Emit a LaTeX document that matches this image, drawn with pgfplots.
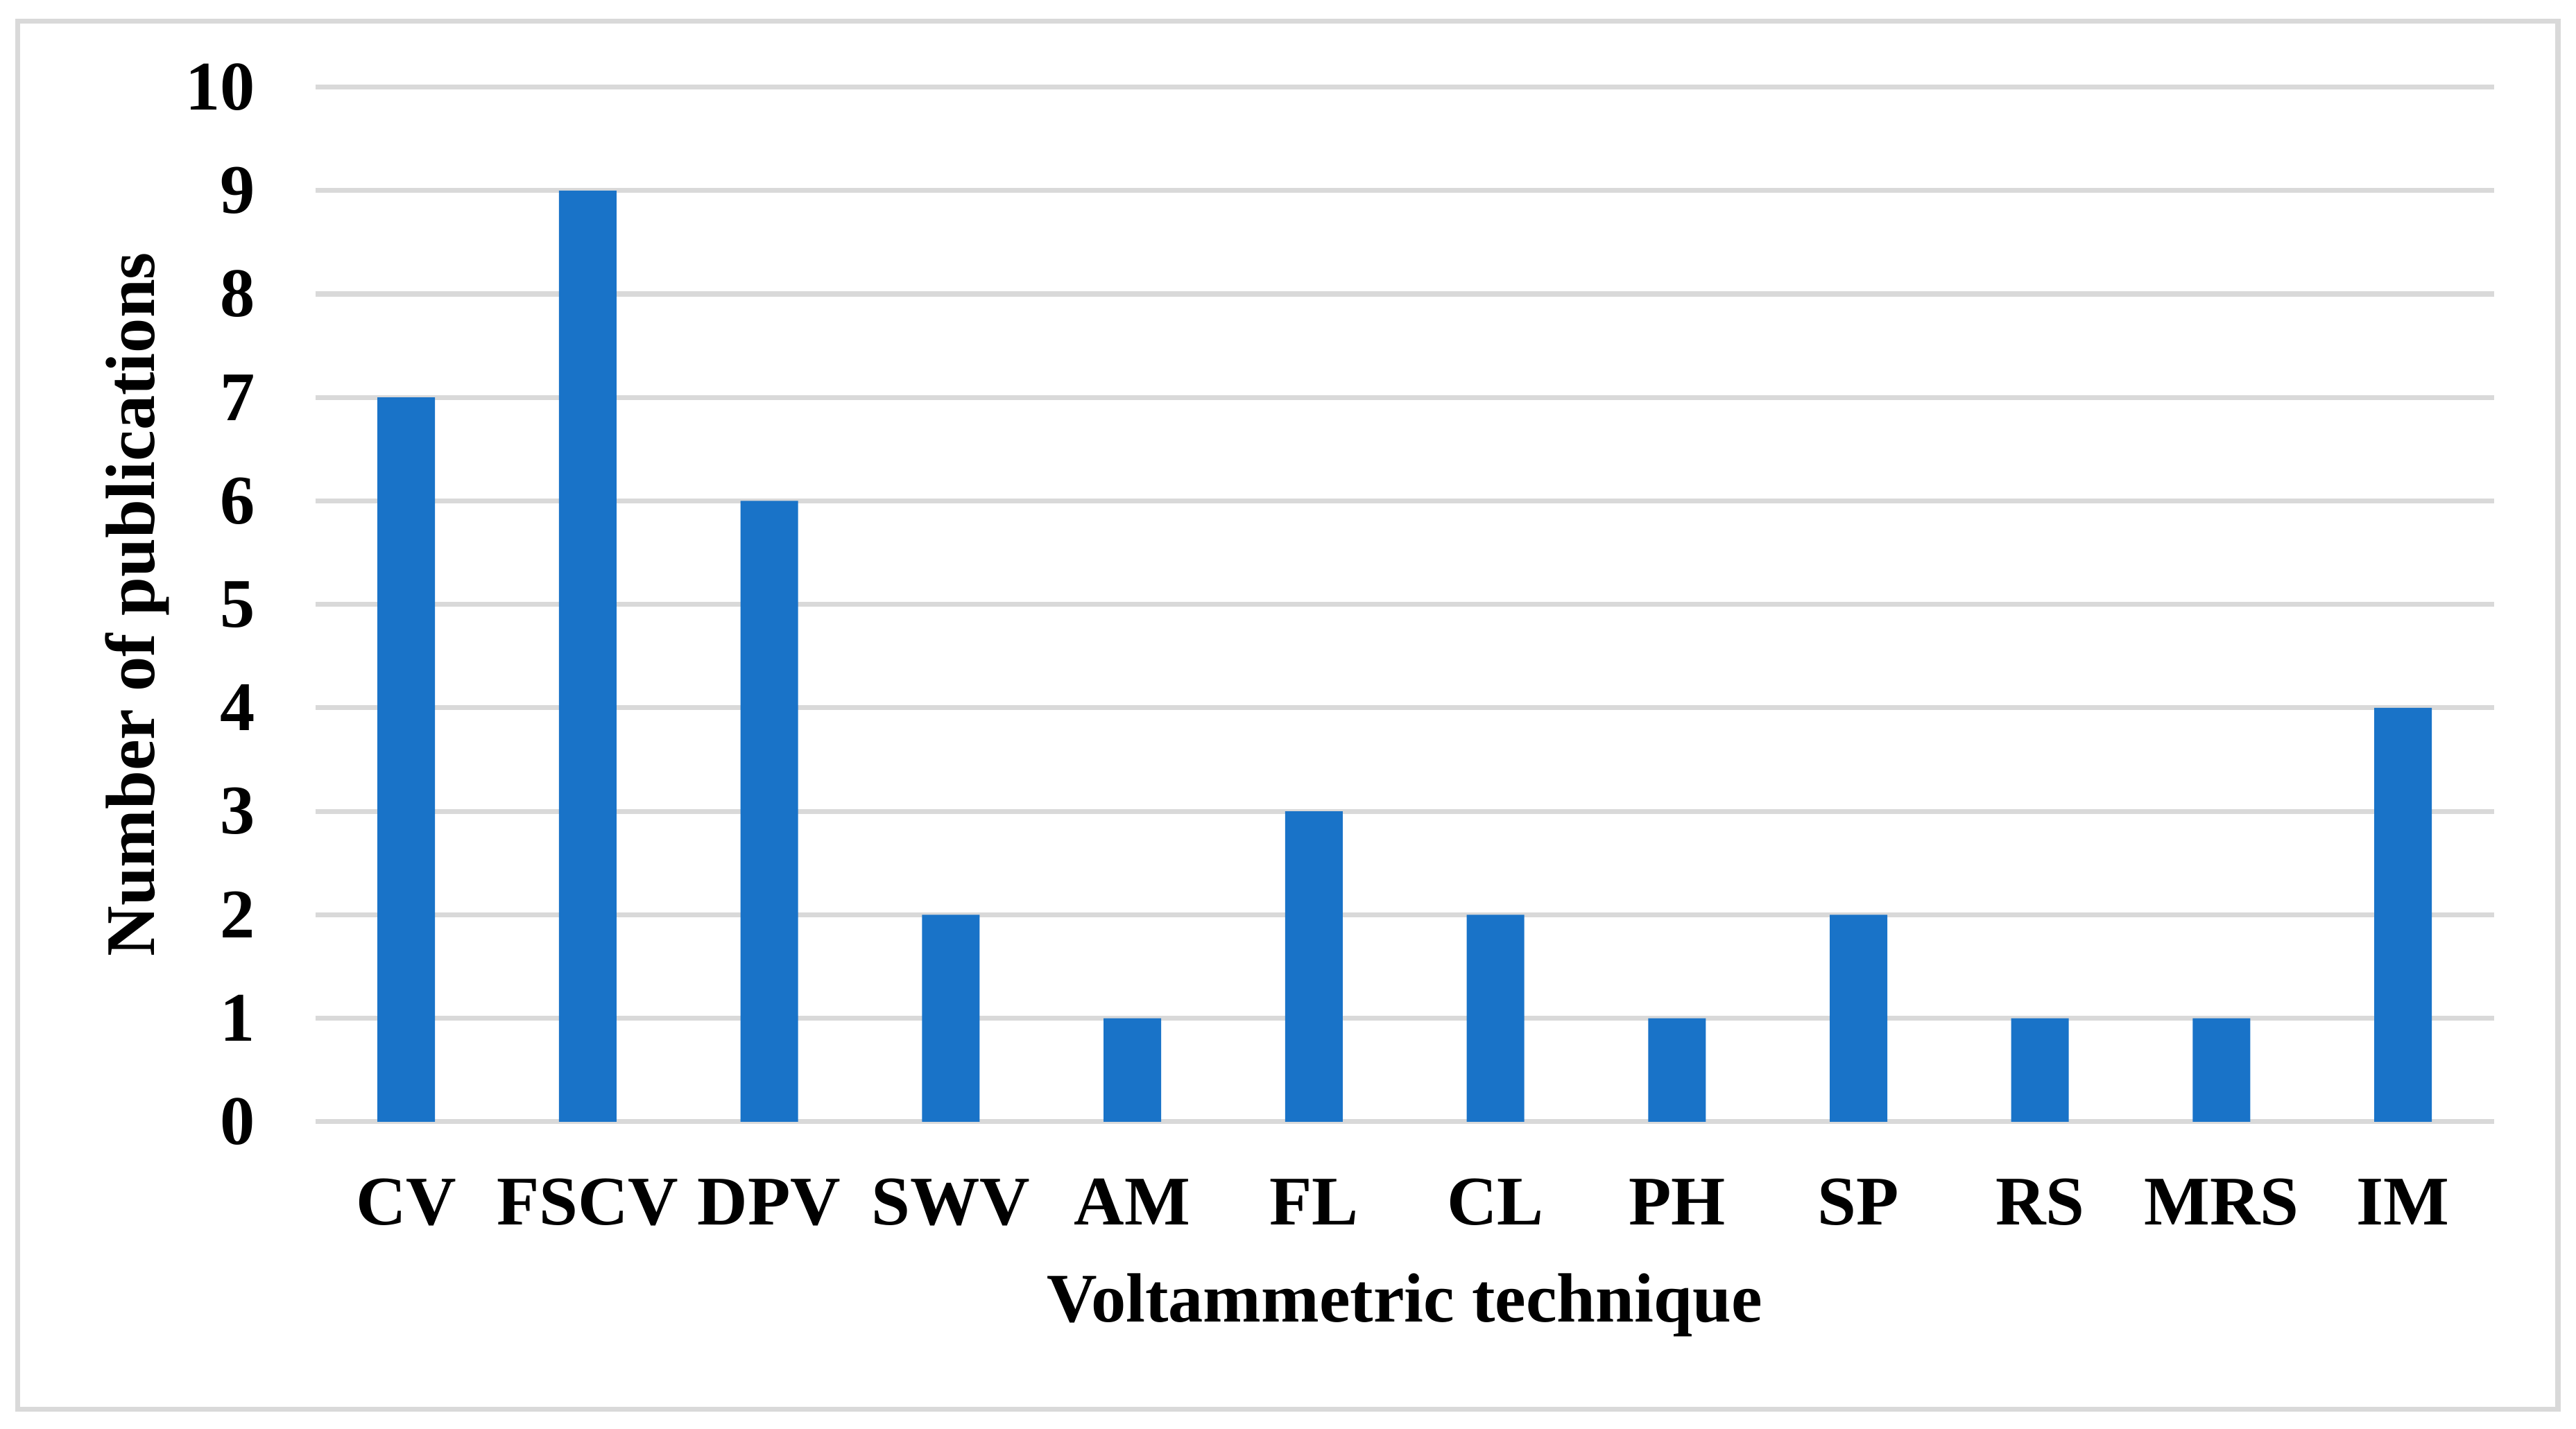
\documentclass[border=0pt]{standalone}
\usepackage{pgfplots}
\pgfplotsset{compat=1.18}
\usepackage{fontspec}
\setmainfont{Liberation Serif}
\definecolor{barblue}{HTML}{1973C8}
\definecolor{gridgray}{HTML}{D9D9D9}
\begin{document}
\begin{tikzpicture}
\useasboundingbox (0,0) rectangle (392pt,217.5pt);
\draw[gridgray, line width=0.75pt] (2.7pt,3pt) rectangle (389.25pt,214.3pt);
\begin{axis}[
  at={(48pt,46.75pt)}, anchor=south west,
  scale only axis, width=331.5pt, height=157.5pt,
  xmin=-0.5, xmax=11.5, ymin=0, ymax=10,
  ytick={0,1,2,3,4,5,6,7,8,9,10},
  xtick={0,1,2,3,4,5,6,7,8,9,10,11},
  xticklabels={CV,FSCV,DPV,SWV,AM,FL,CL,PH,SP,RS,MRS,IM},
  ymajorgrids, grid style={gridgray, line width=0.75pt},
  axis line style={draw=none},
  major tick length=0pt,
  ybar, bar width=8.76pt,
  /pgf/number format/assume math mode=true,
  tick label style={font=\fontsize{10.6}{12}\selectfont\bfseries},
  xticklabel style={anchor=base, yshift=-15.75pt},
  yticklabel style={anchor=east, inner sep=0pt, xshift=-9pt},
  label style={font=\fontsize{10.6}{12}\selectfont\bfseries},
  xlabel={Voltammetric technique},
  ylabel={Number of publications},
  xlabel style={at={(axis description cs:0.5,0)}, anchor=base, yshift=-30.5pt},
  ylabel style={at={(axis description cs:-0.0739,0.5)}, anchor=base},
]
\addplot[fill=barblue, draw=none] coordinates {(0,7) (1,9) (2,6) (3,2) (4,1) (5,3) (6,2) (7,1) (8,2) (9,1) (10,1) (11,4)};
\end{axis}
\end{tikzpicture}
\end{document}
